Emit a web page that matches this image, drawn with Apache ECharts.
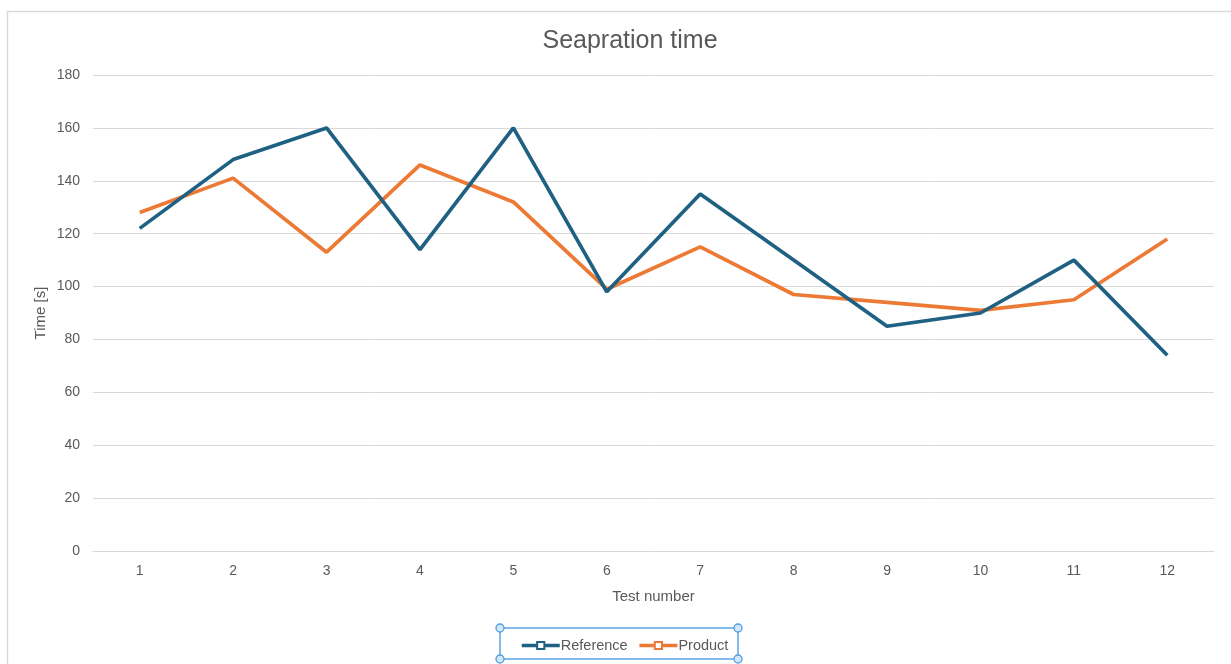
<!DOCTYPE html>
<html>
<head>
<meta charset="utf-8">
<style>
  html, body { margin: 0; padding: 0; background: #ffffff; }
  #chart { width: 1231px; height: 664px; }
</style>
<script src="https://cdn.jsdelivr.net/npm/echarts@6/dist/echarts.min.js"></script>
</head>
<body>
<div id="chart"></div>
<script>
// Test numbers along the x axis
const testNumbers = ['1', '2', '3', '4', '5', '6', '7', '8', '9', '10', '11', '12'];
// Separation time in seconds for each test
const referenceTimes = [122, 148, 160, 114, 160, 98, 135, 110, 85, 90, 110, 74];
const productTimes = [128, 141, 113, 146, 132, 99, 115, 97, 94, 91, 95, 118];
// Value axis range
const yMin = 0, yMax = 180, yStep = 20;

const textColor = '#595959';
const gridColor = '#d9d9d9';
const font = 'Liberation Sans, Arial, sans-serif';

const chart = echarts.init(document.getElementById('chart'), null, { renderer: 'canvas' });

// Legend selection frame and its corner handles
const frame = { x: 500, y: 628, w: 238, h: 31 };
const handles = [
  [frame.x, frame.y], [frame.x + frame.w, frame.y],
  [frame.x, frame.y + frame.h], [frame.x + frame.w, frame.y + frame.h]
].map(([cx, cy]) => ({
  type: 'circle',
  shape: { cx: cx, cy: cy, r: 4 },
  style: { fill: '#d4e7f8', stroke: '#4f9de0', lineWidth: 1.3 },
  z: 20
}));

chart.setOption({
  animation: false,
  backgroundColor: '#ffffff',
  title: {
    text: 'Seapration time',
    left: 625,
    top: 24,
    textAlign: 'center',
    textStyle: { color: textColor, fontSize: 25, fontWeight: 'normal', fontFamily: font }
  },
  grid: { left: 93, right: 17, top: 75, bottom: 113, containLabel: false },
  legend: {
    data: ['Reference', 'Product'],
    left: 515,
    top: 633,
    itemWidth: 38,
    itemHeight: 9,
    itemGap: 10,
    lineStyle: { width: 3.5 },
    textStyle: { color: textColor, fontSize: 14.5, fontFamily: font, padding: [0, 0, 0, -4] }
  },
  xAxis: {
    type: 'category',
    data: testNumbers,
    boundaryGap: true,
    name: 'Test number',
    nameLocation: 'middle',
    nameGap: 38,
    nameTextStyle: { color: textColor, fontSize: 15, fontFamily: font },
    axisLine: { lineStyle: { color: gridColor, width: 1 } },
    axisTick: { show: false },
    axisLabel: { color: textColor, fontSize: 14, fontFamily: font, margin: 13 }
  },
  yAxis: {
    type: 'value',
    min: yMin,
    max: yMax,
    interval: yStep,
    name: 'Time [s]',
    nameLocation: 'middle',
    nameGap: 45,
    nameMoveOverlap: false,
    nameTextStyle: { color: textColor, fontSize: 15, fontFamily: font },
    axisLine: { show: false },
    axisTick: { show: false },
    axisLabel: { color: textColor, fontSize: 14, fontFamily: font, margin: 13 },
    splitLine: { lineStyle: { color: gridColor, width: 1 } }
  },
  series: [
    {
      name: 'Reference',
      type: 'line',
      data: referenceTimes,
      symbol: 'emptyRect',
      symbolSize: 8,
      showSymbol: false,
      itemStyle: { color: '#1f6183' },
      lineStyle: { color: '#1f6183', width: 3.7 },
      z: 3
    },
    {
      name: 'Product',
      type: 'line',
      data: productTimes,
      symbol: 'emptyRect',
      symbolSize: 8,
      showSymbol: false,
      itemStyle: { color: '#ec7a35' },
      lineStyle: { color: '#ec7a35', width: 3.7 },
      z: 2
    }
  ],
  graphic: [
    {
      type: 'rect',
      shape: { x: 7.5, y: 11.5, width: 1260, height: 700 },
      style: { fill: 'none', stroke: '#d9d9d9', lineWidth: 1.5 },
      silent: true
    },
    {
      type: 'rect',
      shape: { x: frame.x, y: frame.y, width: frame.w, height: frame.h },
      style: { fill: 'none', stroke: '#5aa5e6', lineWidth: 1.5 },
      z: 19
    }
  ].concat(handles)
});
</script>
</body>
</html>
